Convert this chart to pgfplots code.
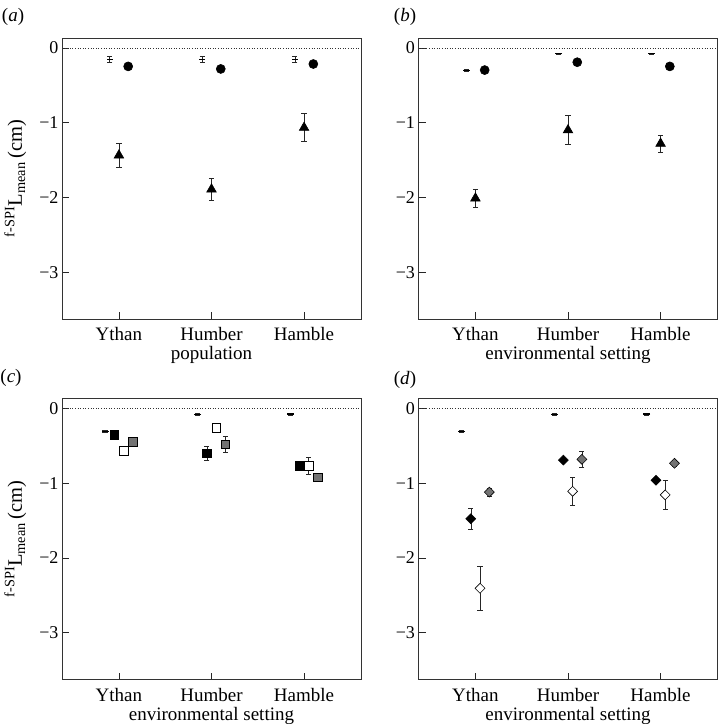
\documentclass[border=0pt]{standalone}
\usepackage{fontspec}
\setmainfont{Liberation Serif}
\usepackage{pgfplots}
\pgfplotsset{compat=1.18}

\newcommand{\bigf}{\fontsize{19}{21}\selectfont}

\pgfplotsset{
  panel/.style={
    scale only axis, width=299pt, height=281pt,
    xmin=-0.615, xmax=2.615, ymin=-3.625, ymax=0.134,
    xtick={0,1,2}, xticklabels={Ythan,Humber,Hamble},
    ytick={-3,-2,-1,0}, yticklabels={−3,−2,−1,0},
    xtick pos=lower, ytick pos=left, tick align=inside,
    major tick length=7pt,
    tick style={black!85, line width=0.6pt},
    axis line style={line width=0.8pt, black!80},
    yticklabel style={font=\fontsize{18}{20}\selectfont},
    xticklabel style={font=\bigf, anchor=base, yshift=-22pt},
    xlabel style={font=\bigf, at={(axis description cs:0.5,0)}, anchor=base, yshift=-41pt},
    ylabel style={font=\fontsize{20.5}{22}\selectfont, at={(axis description cs:-0.134,0.5)}, anchor=base},
    clip=false,
  },
  zero/.style={black!80, dotted, line width=0.6pt, mark=none},
  eb/.style={only marks, black, line width=0.6pt,
    error bars/y dir=both, error bars/y explicit,
    error bars/error bar style={line width=0.6pt, black!85},
    error bars/error mark options={rotate=90, line width=0.6pt, mark size=2.6pt, black!85}},
  dash/.style={eb, mark=-, mark size=3.5pt, mark options={line width=1.3pt}},
  pm/.style={eb, mark=-, mark size=3pt},
}

\newcommand{\ylab}{\textsuperscript{f-SPI}L\textsubscript{mean}\,(cm)}

% panel (a)
\pgfplotstableread{
x y e
-0.1 -0.157 0.04
0.9 -0.157 0.04
1.9 -0.157 0.04
}\adash
\pgfplotstableread{
x y e
0.1 -0.246 0.02
1.1 -0.280 0.02
2.1 -0.214 0.02
}\acirc
\pgfplotstableread{
x y e
0 -1.435 0.155
1 -1.890 0.148
2 -1.065 0.185
}\atri

% panel (b)
\pgfplotstableread{
x y e
-0.1 -0.300 0.01
0.9 -0.076 0.01
1.9 -0.076 0.01
}\bdash
\pgfplotstableread{
x y e
0.1 -0.295 0.02
1.1 -0.190 0.02
2.1 -0.246 0.02
}\bcirc
\pgfplotstableread{
x y e
0 -2.010 0.120
1 -1.098 0.192
2 -1.278 0.113
}\btri

% panel (c)
\pgfplotstableread{
x y e
-0.15 -0.303 0.01
0.85 -0.080 0.01
1.85 -0.075 0.01
}\cdash
\pgfplotstableread{
x y e
-0.05 -0.350 0.02
0.95 -0.600 0.090
1.95 -0.765 0.02
}\cblack
\pgfplotstableread{
x y e
0.05 -0.565 0.02
1.05 -0.255 0.030
2.05 -0.765 0.110
}\copen
\pgfplotstableread{
x y e
0.15 -0.443 0.03
1.15 -0.480 0.105
2.15 -0.920 0.03
}\cgrey

% panel (d)
\pgfplotstableread{
x y e
-0.15 -0.308 0.01
0.85 -0.080 0.01
1.85 -0.075 0.01
}\ddash
\pgfplotstableread{
x y e
-0.05 -1.475 0.145
0.95 -0.690 0.02
1.95 -0.960 0.02
}\dblack
\pgfplotstableread{
x y e
0.05 -2.405 0.295
1.05 -1.108 0.182
2.05 -1.155 0.195
}\dopen
\pgfplotstableread{
x y e
0.15 -1.118 0.050
1.15 -0.680 0.105
2.15 -0.733 0.040
}\dgrey

\begin{document}
\begin{tikzpicture}
\path[use as bounding box] (0,0) rectangle (719pt,724pt);

% (a)
\begin{axis}[panel, at={(62pt,405pt)}, anchor=south west,
  xlabel={population}, ylabel={\ylab}]
\addplot[zero] coordinates {(-0.615,0) (2.615,0)};
\addplot[pm] table[x=x, y=y, y error=e] {\adash};
\addplot[eb, mark=*, mark size=4.5pt] table[x=x, y=y, y error=e] {\acirc};
\addplot[eb, mark=triangle*, mark size=5.5pt] table[x=x, y=y, y error=e] {\atri};
\end{axis}
\node[font=\bigf] at (13pt,707pt) {(\textit{a})};

% (b)
\begin{axis}[panel, at={(418.5pt,405pt)}, anchor=south west,
  xlabel={environmental setting}]
\addplot[zero] coordinates {(-0.615,0) (2.615,0)};
\addplot[dash] table[x=x, y=y, y error=e] {\bdash};
\addplot[eb, mark=*, mark size=4.5pt] table[x=x, y=y, y error=e] {\bcirc};
\addplot[eb, mark=triangle*, mark size=5.5pt] table[x=x, y=y, y error=e] {\btri};
\end{axis}
\node[font=\bigf] at (405pt,707pt) {(\textit{b})};

% (c)
\begin{axis}[panel, at={(62pt,44.5pt)}, anchor=south west,
  xlabel={environmental setting}, ylabel={\ylab}]
\addplot[zero] coordinates {(-0.615,0) (2.615,0)};
\addplot[dash] table[x=x, y=y, y error=e] {\cdash};
\addplot[eb, mark=square*, mark size=4.3pt] table[x=x, y=y, y error=e] {\cblack};
\addplot[eb, mark=square*, mark size=4.3pt, mark options={fill=white}] table[x=x, y=y, y error=e] {\copen};
\addplot[eb, mark=square*, mark size=4.3pt, mark options={fill=black!55}] table[x=x, y=y, y error=e] {\cgrey};
\end{axis}
\node[font=\bigf] at (11pt,346pt) {(\textit{c})};

% (d)
\begin{axis}[panel, at={(418.5pt,44.5pt)}, anchor=south west,
  xlabel={environmental setting}]
\addplot[zero] coordinates {(-0.615,0) (2.615,0)};
\addplot[dash] table[x=x, y=y, y error=e] {\ddash};
\addplot[eb, mark=square*, mark size=3.5pt, mark options={rotate=45}] table[x=x, y=y, y error=e] {\dblack};
\addplot[eb, mark=square*, mark size=3.5pt, mark options={rotate=45, fill=white}] table[x=x, y=y, y error=e] {\dopen};
\addplot[eb, mark=square*, mark size=3.5pt, mark options={rotate=45, fill=black!55}] table[x=x, y=y, y error=e] {\dgrey};
\end{axis}
\node[font=\bigf] at (405pt,344pt) {(\textit{d})};
\end{tikzpicture}
\end{document}
